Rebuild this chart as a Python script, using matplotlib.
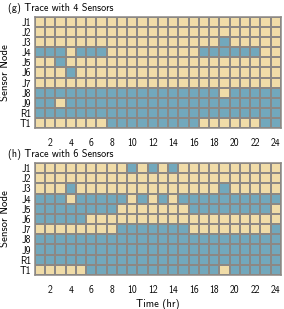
import numpy as np
import matplotlib
matplotlib.use('Agg')
import matplotlib.pyplot as plt
from matplotlib.colors import ListedColormap

# sensor nodes (rows) and hours (columns)
sensors = ['J1', 'J2', 'J3', 'J4', 'J5', 'J6', 'J7', 'J8', 'J9', 'R1', 'T1']
hours = list(range(1, 25))
tick_hours = list(range(2, 25, 2))

# 1 = blue cell, 0 = beige cell, one string per sensor
trace_4 = [
    '000000000000000000000000',  # J1
    '000000000000000000000000',  # J2
    '000000000000000000100000',  # J3
    '111011100000000011111100',  # J4
    '001000000000000000000000',  # J5
    '000100000000000000000000',  # J6
    '000000000000000000000000',  # J7
    '111111111111111111011111',  # J8
    '110111111111111111111111',  # J9
    '111111111111111111111111',  # R1
    '000000011111111100000011',  # T1
]

trace_6 = [
    '000000000101010000000000',  # J1
    '000000000000000000000000',  # J2
    '000100000000000000100000',  # J3
    '111011111010101111111111',  # J4
    '111111110000000111111110',  # J5
    '111110000000000000000000',  # J6
    '000000001111111000000001',  # J7
    '111111111111111111111111',  # J8
    '111111111111111111111111',  # J9
    '111111111111111111111111',  # R1
    '000001111111111111011111',  # T1
]

titles = ['(g) Trace with 4 Sensors', '(h) Trace with 6 Sensors']

BEIGE = '#f0dca8'
BLUE = '#72a8bc'
GRID = '#8c8884'

plt.rcParams['font.family'] = ['cmss10', 'DejaVu Sans']
plt.rcParams['font.size'] = 7

fig = plt.figure(figsize=(2.84, 3.09), dpi=100)
ax_top = fig.add_axes([0.1232, 0.5858, 0.866, 0.3592])
ax_bot = fig.add_axes([0.1232, 0.1100, 0.866, 0.3625])

cmap = ListedColormap([BEIGE, BLUE])

for ax, trace, title in zip([ax_top, ax_bot], [trace_4, trace_6], titles):
    grid = np.array([[int(c) for c in row] for row in trace])
    x_edges = np.arange(len(hours) + 1) + 0.5
    y_edges = np.arange(len(sensors) + 1) - 0.5
    ax.pcolormesh(x_edges, y_edges, grid, cmap=cmap, vmin=0, vmax=1,
                  edgecolors=GRID, linewidth=1.1)
    ax.set_xlim(0.5, 24.5)
    ax.set_ylim(len(sensors) - 0.5, -0.5)
    ax.set_yticks(range(len(sensors)))
    ax.set_yticklabels(sensors)
    ax.set_xticks(tick_hours)
    ax.set_xticklabels([str(h) for h in tick_hours])
    ax.tick_params(length=0, pad=3)
    ax.tick_params(axis='x', pad=7)
    for sp in ax.spines.values():
        sp.set_color(GRID)
        sp.set_linewidth(1.1)
    ax.set_ylabel('Sensor Node', fontsize=7.8)
    ax.yaxis.set_label_coords(-0.1, 0.5)
    fig.text(0.028, ax.get_position().y1 + 0.01, title, ha='left', va='bottom',
             fontsize=7.3)

ax_bot.set_xlabel('Time (hr)', fontsize=7.6, labelpad=3)

fig.savefig('out.png', dpi=100)
